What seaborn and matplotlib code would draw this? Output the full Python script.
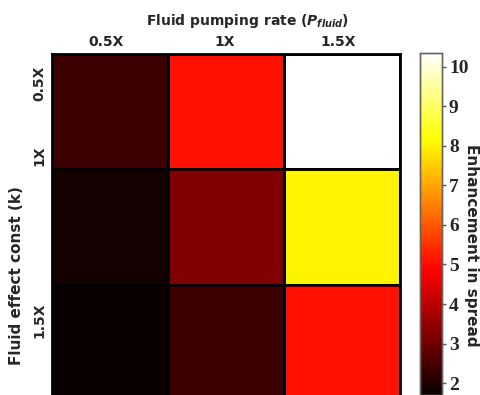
import numpy as np
import pandas as pd
import seaborn as sns
from matplotlib import pyplot as plt

# data
pump_rates = ['0.5X', '1X', '1.5X']
fluid_consts = ['0.5X', '1X', '1.5X']
row_05 = [2.35, 5.05, 10.35]
row_1 = [1.85, 3.25, 8.0]
row_15 = [1.7, 2.35, 5.05]

df = pd.DataFrame([row_05, row_1, row_15], index=fluid_consts, columns=pump_rates)

sns.set_style('white')
plt.rcParams['font.family'] = ['DejaVu Sans']
plt.rcParams['font.weight'] = 'bold'

fig = plt.figure(figsize=(4.81, 3.95), dpi=100)
ax = fig.add_axes([0.108, -0.013, 0.724, 0.876])
cax = fig.add_axes([0.873, 0.0, 0.046, 0.866])

sns.heatmap(df, cmap='hot', vmin=1.7, vmax=10.35, linewidths=2, linecolor='black',
            ax=ax, cbar_ax=cax)

for s in ax.spines.values():
    s.set_visible(True)
    s.set_color('black')
    s.set_linewidth(2)

ax.xaxis.tick_top()
ax.xaxis.set_label_position('top')
ax.set_xticks([0.47, 1.49, 2.47])
ax.set_xticklabels(pump_rates, fontsize=10, fontweight='bold')
ax.set_yticks([0.25, 0.88, 2.31])
ax.set_yticklabels(fluid_consts, fontsize=10, fontweight='bold', rotation=90, va='center')
ax.tick_params(length=0, pad=4)
ax.set_xlabel(r'Fluid pumping rate ($\mathbf{\it{P_{fluid}}}$)', fontsize=10, fontweight='bold')
ax.set_ylabel('Fluid effect const (k)', fontsize=11, fontweight='bold')
ax.yaxis.set_label_coords(-0.08, 0.36)
ax.xaxis.set_label_coords(0.563, 1.085)

cax.set_yticks(range(2, 11))
cax.set_yticklabels([str(v) for v in range(2, 11)], fontsize=14, fontweight='bold',
                    family='Liberation Serif')
cax.tick_params(length=3, width=1, color='#555555', pad=2)
for s in cax.spines.values():
    s.set_visible(True)
    s.set_color('#666666')
    s.set_linewidth(1)
cax.set_ylabel('')
fig.text(472 / 481, 1 - 245 / 395, 'Enhancement in spread', fontsize=11, fontweight='bold',
         rotation=270, ha='center', va='center')

plt.savefig('out.png', dpi=100)
